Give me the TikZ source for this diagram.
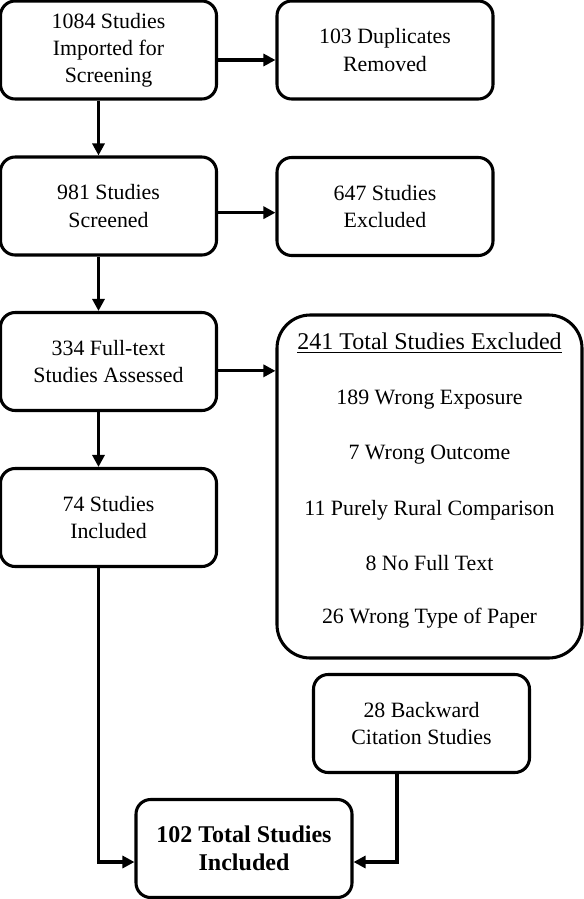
\documentclass[tikz,border=0pt]{standalone}
\usepackage{fontspec}
\setmainfont{Liberation Serif}
\usetikzlibrary{arrows.meta,calc}
\begin{document}
\begin{tikzpicture}[x=0.75pt,y=-0.75pt,
  box/.style={draw, line width=2.3pt, rounded corners=11pt, align=center,
    font=\fontsize{16.4}{20.3}\selectfont, minimum width=162pt, minimum height=73.5pt, inner sep=0pt},
  bigbox/.style={draw, line width=2.3pt, rounded corners=25pt, minimum width=228.75pt, minimum height=257.25pt, inner sep=0pt},
  item/.style={font=\fontsize{16.4}{20}\selectfont, inner sep=0pt},
  conn/.style={line width=2.3pt},
  arr/.style={line width=2.3pt, -{Triangle[length=9pt,width=9pt]}}]
\useasboundingbox (0,0) rectangle (583,899);
\node[box] (b1) at (108.5,50) {1084 Studies\\Imported for\\Screening};
\node[box] (b2) at (385,50) {103 Duplicates\\Removed};
\node[box] (b3) at (108.5,206) {981 Studies\\Screened};
\node[box] (b4) at (385,206.5) {647 Studies\\Excluded};
\node[box] (b5) at (108.5,361.5) {334 Full-text\\Studies Assessed};
\node[bigbox] (b6) at (429.5,486.5) {};
\node[item, font=\fontsize{18}{21}\selectfont] (t0) at (429.5,343) {\underline{241 Total Studies Excluded}};
\node[item] (t1) at (429.5,400) {189 Wrong Exposure};
\node[item] (t2) at (429.5,455) {7 Wrong Outcome};
\node[item] (t3) at (429.5,510) {11 Purely Rural Comparison};
\node[item] (t4) at (429.5,563) {8 No Full Text};
\node[item] (t5) at (429.5,618) {26 Wrong Type of Paper};
\node[box] (b7) at (108.5,517.5) {74 Studies\\Included};
\node[box] (b8) at (421.5,723.5) {28 Backward\\Citation Studies};
\node[box, font=\fontsize{18}{21}\selectfont\bfseries] (b9) at (244,848.5) {102 Total Studies\\Included};
% horizontal arrows
\draw[arr] ([yshift=-7.5pt]b1.east) -- ([yshift=-7.5pt]b1.east -| b2.west);
\draw[arr] ([yshift=-5pt]b3.east) -- ([yshift=-5pt]b3.east -| b4.west);
\draw[arr] ([yshift=-7pt]b5.east) -- ([yshift=-7pt]b5.east -| b6.west);
% vertical arrows
\draw[arr] ([xshift=-7.5pt]b1.south) -- ([xshift=-7.5pt]b1.south |- b3.north);
\draw[arr] ([xshift=-7.5pt]b3.south) -- ([xshift=-7.5pt]b3.south |- b5.north);
\draw[arr] ([xshift=-7.5pt]b5.south) -- ([xshift=-7.5pt]b5.south |- b7.north);
% to final
\coordinate (jl) at ([xshift=-7.5pt]b7.south |- 0,862);
\coordinate (jr) at ([xshift=-18.4pt]b8.south |- 0,862);
\draw[arr] ([xshift=-7.5pt]b7.south) -- (jl) -- (jl -| b9.west);
\draw[arr] ([xshift=-18.4pt]b8.south) -- (jr) -- (jr -| b9.east);
\end{tikzpicture}
\end{document}
